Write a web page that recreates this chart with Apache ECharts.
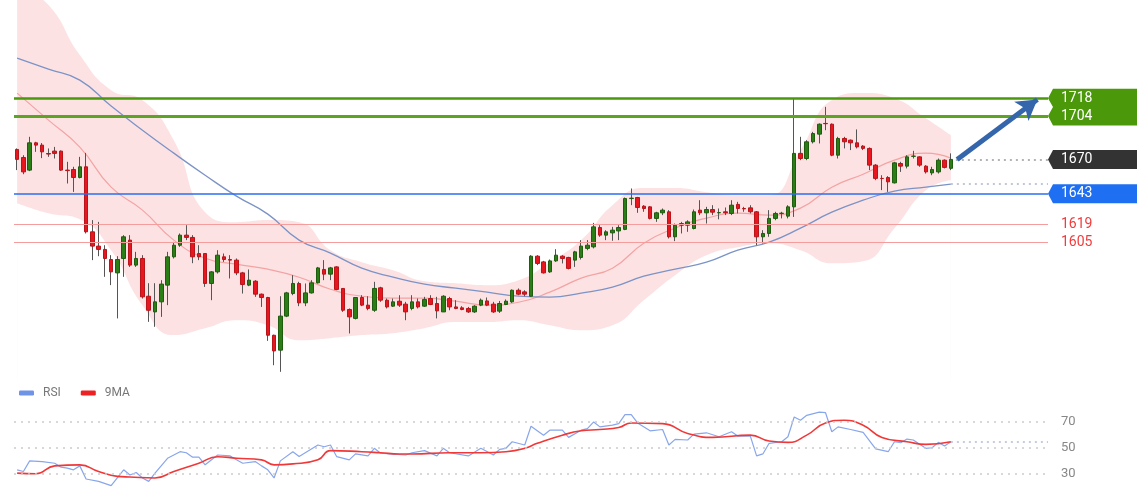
<!DOCTYPE html>
<html><head><meta charset="utf-8">
<script src="https://cdn.jsdelivr.net/npm/echarts@6/dist/echarts.min.js"></script>
<style>html,body{margin:0;padding:0;background:#fff}#c{width:1140px;height:500px}</style>
</head><body><div id="c"></div>
<script>
// ---------- DATA ----------
// candles: [open, close, low, high]
const candles = [
[1677.8,1670.0,1661.6,1678.6],[1671.5,1660.2,1658.4,1673.3],[1661.6,1683.0,1660.8,1687.7],[1683.0,1681.2,1675.9,1683.8],
[1681.2,1675.9,1671.0,1682.8],[1674.6,1674.2,1672.0,1678.6],[1676.5,1674.7,1670.7,1679.8],[1676.5,1661.6,1661.0,1677.0],
[1661.6,1661.2,1651.1,1668.1],[1662.1,1655.8,1644.5,1664.2],[1655.8,1664.2,1655.1,1672.0],[1664.2,1613.2,1611.9,1675.1],
[1613.2,1602.0,1591.0,1622.4],[1602.0,1599.4,1594.1,1621.0],[1599.4,1592.3,1577.9,1602.7],[1591.5,1581.8,1571.4,1594.9],
[1581.0,1591.5,1545.3,1594.1],[1592.3,1609.3,1577.9,1610.6],[1606.7,1587.1,1585.7,1610.6],[1587.1,1592.3,1585.7,1597.5],
[1592.3,1562.2,1560.9,1594.9],[1562.7,1551.7,1542.6,1572.9],[1550.4,1558.3,1538.7,1572.9],[1558.3,1572.2,1546.5,1575.3],
[1571.4,1593.6,1555.7,1597.5],[1593.6,1602.7,1592.3,1605.3],[1602.7,1610.6,1601.4,1611.9],[1610.6,1608.8,1606.7,1618.4],
[1608.8,1593.6,1588.6,1610.6],[1596.2,1593.6,1591.0,1602.7],[1596.2,1572.7,1570.0,1596.5],[1572.7,1581.8,1559.6,1582.3],
[1581.8,1594.9,1580.5,1598.8],[1593.6,1591.5,1589.6,1596.2],[1591.5,1591.0,1576.6,1594.9],[1591.0,1581.0,1579.2,1592.3],
[1581.0,1571.9,1564.8,1581.8],[1571.4,1575.3,1570.6,1583.7],[1574.5,1564.3,1562.2,1575.3],[1564.3,1561.7,1554.3,1564.8],
[1561.7,1532.1,1527.7,1562.2],[1532.1,1519.8,1508.6,1532.5],[1520.4,1547.1,1503.4,1562.7],[1547.1,1565.3,1546.3,1566.1],
[1564.8,1572.7,1563.5,1579.2],[1572.7,1557.5,1554.9,1574.0],[1557.5,1565.3,1554.9,1572.7],[1565.3,1573.2,1564.8,1575.3],
[1573.2,1584.9,1572.7,1585.7],[1583.7,1580.0,1575.3,1591.0],[1580.0,1584.9,1575.3,1585.7],[1585.7,1568.0,1567.4,1586.2],
[1568.8,1551.7,1550.4,1569.0],[1552.3,1546.5,1533.5,1553.1],[1545.3,1561.7,1544.5,1562.0],[1561.7,1555.7,1554.9,1563.5],
[1555.7,1553.1,1551.7,1562.7],[1551.7,1568.8,1550.4,1574.0],[1569.3,1559.6,1558.3,1570.1],[1559.6,1554.3,1553.1,1560.9],
[1554.9,1558.3,1554.3,1560.9],[1558.8,1555.7,1554.3,1563.5],[1556.5,1550.4,1543.9,1558.3],[1553.1,1558.3,1551.7,1563.5],
[1558.3,1554.3,1553.1,1560.9],[1554.9,1560.2,1554.3,1562.2],[1560.9,1556.2,1555.7,1563.5],[1557.0,1551.2,1545.3,1562.2],
[1550.4,1562.7,1550.4,1563.5],[1560.9,1554.3,1551.7,1562.2],[1554.3,1553.1,1552.5,1559.6],[1553.6,1552.3,1551.7,1554.9],
[1553.1,1550.4,1549.6,1554.3],[1550.4,1554.9,1549.6,1555.7],[1555.7,1559.6,1554.9,1560.9],[1559.0,1555.7,1554.9,1561.7],
[1556.5,1550.4,1549.6,1558.3],[1551.0,1557.0,1549.6,1559.0],[1556.2,1558.8,1555.7,1560.2],[1558.3,1567.4,1557.5,1568.0],
[1567.4,1564.3,1563.5,1568.8],[1566.1,1564.3,1562.7,1567.4],[1562.7,1594.1,1562.2,1594.9],[1594.1,1588.4,1587.1,1594.9],
[1589.6,1581.0,1580.5,1590.4],[1581.8,1590.4,1581.0,1591.5],[1590.4,1594.9,1589.6,1599.6],[1594.1,1592.3,1588.4,1594.9],
[1593.1,1584.5,1583.7,1593.6],[1591.0,1597.5,1585.7,1598.3],[1593.1,1602.0,1591.5,1606.7],[1600.2,1602.7,1598.8,1606.7],
[1601.4,1617.1,1600.2,1620.2],[1616.6,1610.6,1609.3,1618.4],[1610.6,1613.2,1606.7,1614.5],[1612.4,1614.5,1606.2,1617.1],
[1613.9,1616.6,1606.7,1618.4],[1615.1,1639.3,1614.5,1640.1],[1639.3,1639.6,1634.1,1647.2],[1640.1,1632.3,1628.1,1640.6],
[1633.3,1631.5,1628.9,1634.1],[1632.8,1623.7,1622.9,1633.3],[1623.7,1628.1,1621.0,1628.9],[1628.1,1630.2,1626.3,1631.5],
[1628.9,1609.3,1608.0,1630.2],[1609.3,1618.4,1605.9,1619.7],[1618.4,1619.7,1611.9,1621.0],[1618.4,1621.0,1613.2,1622.3],
[1615.8,1628.9,1615.1,1630.7],[1630.2,1628.1,1626.3,1638.0],[1628.1,1630.7,1619.7,1632.8],[1630.7,1628.6,1626.3,1634.1],
[1628.1,1628.3,1623.0,1631.5],[1628.9,1628.1,1626.3,1632.3],[1627.6,1634.1,1626.3,1638.0],[1634.7,1631.5,1627.6,1636.7],
[1631.5,1631.2,1628.9,1632.8],[1632.0,1628.9,1627.6,1634.1],[1628.9,1609.3,1602.7,1629.5],[1609.3,1611.9,1604.1,1614.5],
[1611.9,1623.7,1609.3,1630.2],[1623.7,1627.6,1622.3,1628.9],[1627.6,1627.8,1623.7,1628.9],[1625.5,1632.8,1623.7,1634.1],
[1632.8,1674.7,1624.9,1717.5],[1674.7,1670.7,1669.4,1687.7],[1670.7,1683.8,1669.4,1685.1],[1683.8,1690.3,1682.5,1691.6],
[1689.8,1697.6,1682.5,1698.2],[1698.2,1698.0,1692.9,1711.2],[1697.6,1673.3,1672.5,1698.2],[1673.3,1686.4,1670.7,1687.7],
[1686.4,1683.8,1678.6,1687.7],[1685.1,1683.0,1677.3,1685.6],[1683.0,1679.8,1678.6,1693.5],[1680.4,1678.6,1677.3,1681.2],
[1678.6,1665.5,1661.6,1679.4],[1665.5,1655.1,1653.7,1666.3],[1655.1,1655.0,1645.9,1657.6],[1655.8,1652.4,1644.5,1656.9],
[1651.6,1667.3,1651.1,1668.1],[1666.8,1664.7,1660.2,1668.1],[1664.7,1672.0,1662.9,1673.3],[1672.4,1672.6,1670.7,1676.7],
[1672.0,1665.5,1664.2,1672.4],[1664.7,1660.2,1658.9,1665.5],[1659.4,1662.1,1657.6,1664.2],[1660.2,1669.4,1658.9,1670.7],
[1669.4,1663.7,1662.9,1670.0],[1663.0,1670.0,1661.6,1674.7]
];
const slotCount = 165; // candle slots incl. empty space on the right
const bandAt     = [0,5,10,15,20,25,30,35,40,45,50,55,60,65,70,75,80,85,90,95,100,105,110,115,120,125,130,135,140,145,149];
const bandUpper  = [1806.7,1791.0,1751.8,1724.3,1716.5,1685.1,1628.6,1620.8,1622.4,1620.8,1598.8,1589.4,1583.1,1574.5,1572.9,1571.4,1575.3,1589.4,1606.7,1634.1,1647.5,1647.5,1644.3,1641.9,1641.9,1677.2,1716.5,1722.0,1718.0,1702.3,1689.0];
const bandLower  = [1635.7,1627.8,1623.1,1598.8,1555.7,1532.2,1537.6,1543.9,1540.0,1528.2,1529.8,1532.2,1533.7,1537.6,1542.4,1542.4,1543.9,1540.0,1536.1,1540.0,1559.6,1579.2,1594.9,1601.2,1604.3,1598.8,1588.6,1590.2,1616.1,1645.9,1653.7];
const bandMiddle = [1722.0,1700.8,1679.6,1648.2,1630.2,1606.7,1592.5,1587.8,1583.9,1577.6,1568.2,1562.7,1561.2,1561.2,1558.8,1555.7,1558.0,1565.9,1576.9,1584.7,1604.3,1616.1,1623.9,1627.8,1626.3,1631.8,1648.2,1658.4,1669.4,1674.9,1671.0];
const maSlow     = [1749.4,1740.8,1732.2,1711.8,1692.9,1674.9,1657.6,1641.2,1627.1,1606.7,1596.5,1584.7,1577.7,1572.2,1569.0,1565.9,1562.7,1562.0,1565.1,1569.8,1578.4,1583.9,1589.4,1598.8,1605.1,1616.1,1628.6,1638.0,1645.1,1648.2,1650.6];
const resistanceLevels = [1718, 1704];
const currentPrice = 1670;
const pivotLevel = 1643;
const supportLevels = [1619, 1605];

const rsiAt = [0,1,2,4,6,7,8,9,10,11,13,15,17,18,19,20,21,22,24,26,27,28,29,30,32,34,35,36,38,39,40,41,42,44,45,48,49,50,51,53,54,56,57,58,60,62,63,65,67,68,69,72,74,76,77,78,79,81,82,84,85,87,88,90,91,92,93,95,96,97,98,99,101,103,104,105,107,108,110,112,114,115,117,118,119,120,122,123,124,125,126,128,129,130,131,133,135,137,139,140,141,142,143,145,146,147,148,149];
const rsiValues = [33,31.7,39.8,39.3,38,35,34.3,33,36,26,24.2,21,33,29,31,26.8,24.2,30.5,41.8,46.8,46,42.6,42.6,36.8,44.3,43.6,40.6,38,39.3,36,33,26.8,39.8,46.8,43.1,51.9,50.6,51.9,43,40.6,45.1,43.6,49.4,45.6,45,44.3,46,47.6,43.6,49.4,46,43.6,49.4,44.3,48.6,49.4,54.4,51.9,66.2,59.4,63.2,63.2,57.7,63.2,64.4,69.5,65.7,67,68.2,75,75,68.7,62.7,63.7,51.9,56.2,55.7,60.2,61.2,58.2,62,58.7,58.7,43.6,45.1,53.2,54.4,58.2,73.2,70.8,74.5,77,76.5,62,65.7,63.7,61.5,48.9,46.8,54.4,53.6,56.4,55.7,49.4,49.8,53.9,51.1,54.4];
const ma9At = [0,3,6,10,13,16,18,22,25,29,32,35,39,41,44,48,50,55,58,61,63,69,74,78,81,83,87,90,93,96,98,103,107,111,117,120,123,126,129,132,135,138,142,145,149];
const ma9Values = [30.5,30,36,36.8,31.7,28,27.5,26.8,31.7,38,43,41.8,40.6,36.8,37.5,40.6,47.6,46.8,46,45.1,45.1,46,46,46.8,49.4,53.2,59.4,62.7,63.7,65.2,68.7,68.2,60.7,57.7,59.4,54.9,53.9,59.4,68.7,70.8,67,57.7,54.4,52.4,54.4];
const rsiLevels = [70, 50, 30];

// ---------- CHART ----------
const FONT = 'Roboto, "Liberation Sans", Arial, sans-serif';
const cats = Array.from({length: slotCount}, (_, i) => String(i + 1));
const pairs = (xs, ys) => xs.map((x, i) => [x, ys[i]]);
const lastIdx = candles.length - 1;
const rsiNow = rsiValues[rsiValues.length - 1];
const maSlowEnd = maSlow[maSlow.length - 1];

const GL = 14, GW = 1034;
const option = {
  animation: false,
  backgroundColor: '#ffffff',
  textStyle: {fontFamily: FONT},
  grid: [
    {left: GL, width: GW, top: 0, height: 380},
    {left: GL, width: GW, top: 395, height: 106}
  ],
  xAxis: [
    {type: 'category', gridIndex: 0, data: cats, boundaryGap: true, show: false},
    {type: 'category', gridIndex: 1, data: cats, boundaryGap: true, show: false},
    {type: 'value', gridIndex: 0, min: -0.5, max: slotCount - 0.5, show: false},
    {type: 'value', gridIndex: 1, min: -0.5, max: slotCount - 0.5, show: false}
  ],
  yAxis: [
    {type: 'value', gridIndex: 0, min: 1497, max: 1795, show: false},
    {type: 'value', gridIndex: 1, min: 10, max: 90, show: false}
  ],
  legend: {
    left: 14, top: 382, itemWidth: 15, itemHeight: 5, itemGap: 20, icon: 'roundRect',
    data: ['RSI', '9MA'],
    textStyle: {color: '#777', fontSize: 12, fontFamily: FONT, padding: [0, 0, 0, 4]}
  },
  series: [
    // Bollinger band: pink fill under the upper edge, white fill under the lower edge
    {type: 'line', xAxisIndex: 2, yAxisIndex: 0, smooth: true, symbol: 'none', silent: true,
     lineStyle: {opacity: 0}, areaStyle: {color: '#fde2e4', opacity: 1, origin: 'start'},
     data: pairs(bandAt, bandUpper), z: 1},
    {type: 'line', xAxisIndex: 2, yAxisIndex: 0, smooth: true, symbol: 'none', silent: true,
     lineStyle: {opacity: 0}, areaStyle: {color: '#ffffff', opacity: 1, origin: 'start'},
     data: pairs(bandAt, bandLower), z: 1},
    {type: 'line', xAxisIndex: 2, yAxisIndex: 0, smooth: true, symbol: 'none', silent: true,
     lineStyle: {color: '#f4a3a3', width: 1.2}, data: pairs(bandAt, bandMiddle), z: 2},
    {type: 'line', xAxisIndex: 2, yAxisIndex: 0, smooth: true, symbol: 'none', silent: true,
     lineStyle: {color: '#7b93c6', width: 1.3}, data: pairs(bandAt, maSlow), z: 2,
     markLine: {
       silent: true, symbol: 'none', label: {show: false}, animation: false,
       data: [
         {yAxis: resistanceLevels[0], lineStyle: {color: '#4a980c', width: 2.5, type: 'solid'}},
         {yAxis: resistanceLevels[1], lineStyle: {color: '#5ea424', width: 3, type: 'solid'}},
         {yAxis: pivotLevel, lineStyle: {color: '#2a6ef0', width: 1.6, type: 'solid'}},
         {yAxis: supportLevels[0], lineStyle: {color: '#f59c9c', width: 1.2, type: 'solid'}},
         {yAxis: supportLevels[1], lineStyle: {color: '#f59c9c', width: 1.2, type: 'solid'}},
         [{coord: [lastIdx + 0.8, currentPrice], lineStyle: {color: '#9a9a9a', width: 1.5, type: [2, 4]}},
          {coord: [slotCount - 0.5, currentPrice]}],
         [{coord: [lastIdx, maSlowEnd], lineStyle: {color: '#aab6cc', width: 1.5, type: [2, 4]}},
          {coord: [slotCount - 0.5, maSlowEnd]}],
         [{coord: [lastIdx + 1, currentPrice], symbol: 'none', lineStyle: {color: '#3566ab', width: 5, type: 'solid'}},
          {coord: [162.8, resistanceLevels[0] - 1], symbol: 'arrow', symbolSize: [18, 20]}]
       ]
     }},
    {type: 'candlestick', xAxisIndex: 0, yAxisIndex: 0, barWidth: 1, silent: true, z: 3,
     itemStyle: {color: '#555', color0: '#555', borderColor: '#555', borderColor0: '#555', borderWidth: 1},
     data: candles},
    {type: 'candlestick', xAxisIndex: 0, yAxisIndex: 0, barWidth: 4, silent: true, z: 4,
     itemStyle: {color: '#2b7d16', color0: '#e8161e', borderColor: '#1f5c10', borderColor0: '#b8141a', borderWidth: 1},
     data: candles.map(([o, c]) => [o, c, Math.min(o, c), Math.max(o, c)])},
    {name: 'RSI', type: 'line', xAxisIndex: 3, yAxisIndex: 1, symbol: 'none', silent: true,
     itemStyle: {color: '#6f93e6'}, lineStyle: {color: '#88a6ec', width: 1.2}, data: pairs(rsiAt, rsiValues), z: 3,
     markLine: {
       silent: true, symbol: 'none', label: {show: false}, animation: false,
       data: rsiLevels.map(v => ({yAxis: v, lineStyle: {color: '#cccccc', width: 1.5, type: [2, 5]}})).concat([
         [{coord: [lastIdx, rsiNow], lineStyle: {color: '#b0bcd8', width: 1.5, type: [2, 4]}},
          {coord: [slotCount - 0.5, rsiNow]}]
       ])
     }},
    {name: '9MA', type: 'line', xAxisIndex: 3, yAxisIndex: 1, symbol: 'none', smooth: true, silent: true,
     itemStyle: {color: '#ee2222'}, lineStyle: {color: '#f03838', width: 1.6}, data: pairs(ma9At, ma9Values), z: 4}
  ]
};

const chart = echarts.init(document.getElementById('c'));
chart.setOption(option);

// price tags positioned through the axes' own scales
const yP = v => chart.convertToPixel({yAxisIndex: 0}, v);
const yR = v => chart.convertToPixel({yAxisIndex: 1}, v);
const xE = chart.convertToPixel({xAxisIndex: 2}, slotCount - 0.5);
const TR = 1137, N = 5, H = 9.5;
const tag = (y, color) => ({type: 'polygon', silent: true, z: 10,
  shape: {points: [[xE + N, y - H], [xE, y], [xE + N, y + H], [TR, y + H], [TR, y - H]]}, style: {fill: color}});
const txt = (y, s, color, size) => ({type: 'text', silent: true, z: 11, x: xE + 13, y: y,
  style: {text: s, fill: color, font: (size || 14) + 'px ' + FONT, verticalAlign: 'middle', align: 'left'}});
const g1 = yP(resistanceLevels[0]), g2 = yP(resistanceLevels[1]);
const graphics = [
  {type: 'polygon', silent: true, z: 10, shape: {points: [
    [xE + N, g1 - H], [xE, g1], [xE + N, (g1 + g2) / 2], [xE, g2], [xE + N, g2 + H], [TR, g2 + H], [TR, g1 - H]]},
   style: {fill: '#4b990b'}},
  txt(g1, String(resistanceLevels[0]), '#ffffff'),
  txt(g2, String(resistanceLevels[1]), '#ffffff'),
  tag(yP(currentPrice), '#333333'), txt(yP(currentPrice), String(currentPrice), '#ffffff'),
  tag(yP(pivotLevel), '#1f6ff2'), txt(yP(pivotLevel), String(pivotLevel), '#ffffff'),
  txt(yP(supportLevels[0]), String(supportLevels[0]), '#f03c3c'),
  txt(yP(supportLevels[1]), String(supportLevels[1]), '#f03c3c')
].concat(rsiLevels.map(v => txt(yR(v), String(v), '#888888', 13)));
chart.setOption({graphic: graphics});
</script>
</body></html>
